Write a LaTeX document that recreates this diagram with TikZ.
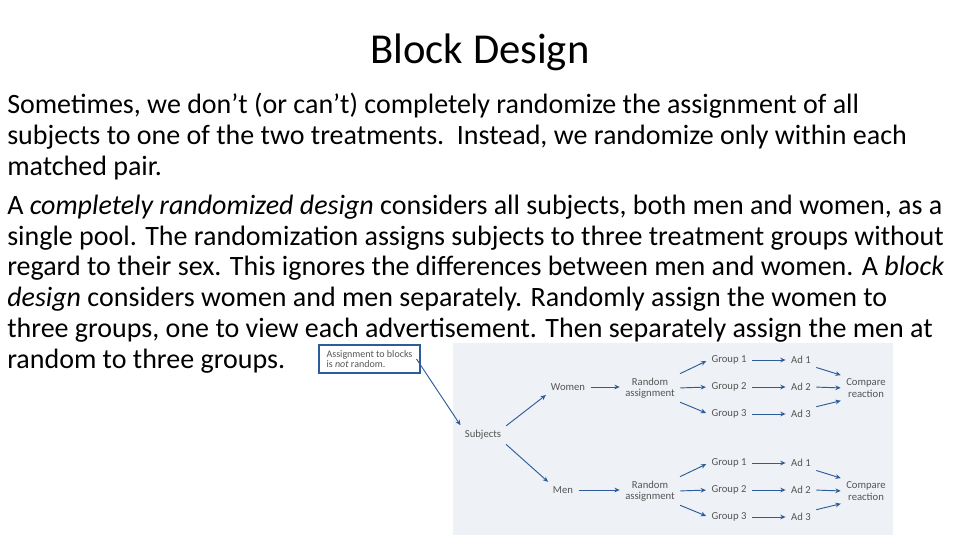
\documentclass[tikz,border=0pt]{standalone}
\usepackage{fontspec}
\setmainfont{Carlito}
\usetikzlibrary{arrows.meta}
\definecolor{arr}{HTML}{2E5C9A}
\definecolor{panel}{HTML}{EEF1F6}
\definecolor{dtxt}{HTML}{555555}
\begin{document}
\begin{tikzpicture}[x=0.75pt,y=-0.75pt,
  body/.style={anchor=west,inner sep=0pt,font=\fontsize{21}{24}\selectfont},
  lab/.style={inner sep=2pt,font=\fontsize{8}{8.5}\selectfont,text=dtxt,align=center},
  ar/.style={draw=arr,line width=0.7pt,shorten <=2pt,shorten >=2pt,-{Stealth[length=4pt,width=3.5pt]}}]
\useasboundingbox (0,0) rectangle (960,540);
\node[font=\fontsize{32}{36}\selectfont] (title) at (480,52) {Block Design};
\node[body] (l1) at (7,106) {Sometimes, we don’t (or can’t) completely randomize the assignment of all};
\node[body] (l2) at (7,137) {subjects to one of the two treatments.\ \ Instead, we randomize only within each};
\node[body] (l3) at (7,168) {matched pair.};
\node[body] (l4) at (7,207) {A \textit{completely randomized design} considers all subjects, both men and women, as a};
\node[body] (l5) at (7,238) {single pool. The randomization assigns subjects to three treatment groups without};
\node[body] (l6) at (7,268) {regard to their sex. This ignores the differences between men and women. A \textit{block}};
\node[body] (l7) at (7,299) {\textit{design} considers women and men separately. Randomly assign the women to};
\node[body] (l8) at (7,330) {three groups, one to view each advertisement. Then separately assign the men at};
\node[body] (l9) at (7,361) {random to three groups.};
\fill[panel] (453,343) rectangle (893,535);
\node[draw=arr,line width=0.8pt,fill=white,minimum width=75.75pt,minimum height=21pt,align=left,inner sep=2pt,
  font=\fontsize{7.5}{8}\selectfont,text=dtxt] (call) at (369.5,359) {Assignment to blocks\\is \textit{not} random.};
\node[lab] (subj) at (483,435) {Subjects};
\foreach \k/\y in {w/0,m/103}{
  \node[lab] (ra\k) at (650,388+\y) {Random\\assignment};
  \node[lab] (g1\k) at (729,360+\y) {Group 1};
  \node[lab] (g2\k) at (729,387+\y) {Group 2};
  \node[lab] (g3\k) at (729,414+\y) {Group 3};
  \node[lab] (a1\k) at (801,360+\y) {Ad 1};
  \node[lab] (a2\k) at (801,387+\y) {Ad 2};
  \node[lab] (a3\k) at (801,414+\y) {Ad 3};
  \node[lab] (cr\k) at (866,388+\y) {Compare\\reaction};
  \draw[ar] (ra\k.north east) -- (g1\k.west);
  \draw[ar] (ra\k.east) -- (g2\k.west);
  \draw[ar] (ra\k.south east) -- (g3\k.west);
  \foreach \i in {1,2,3}{\draw[ar] (g\i\k.east) -- (a\i\k.west);}
  \draw[ar] (a1\k.south east) -- (cr\k.north west);
  \draw[ar] (a2\k.east) -- (cr\k.west);
  \draw[ar] (a3\k.north east) -- (cr\k.south west);
}
\node[lab] (wom) at (568,387) {Women};
\node[lab] (men) at (563,490) {Men};
\draw[ar] (wom.east) -- (wom.east-|raw.west);
\draw[ar] (men.east) -- (men.east-|ram.west);
\draw[ar] (subj.north east) -- (wom.south west);
\draw[ar] (subj.south east) -- (men.north west);
\draw[ar,shorten <=0pt] (call.east) ++(-4,0) coordinate (cs) (cs) -- (subj.north west);
\end{tikzpicture}
\end{document}
